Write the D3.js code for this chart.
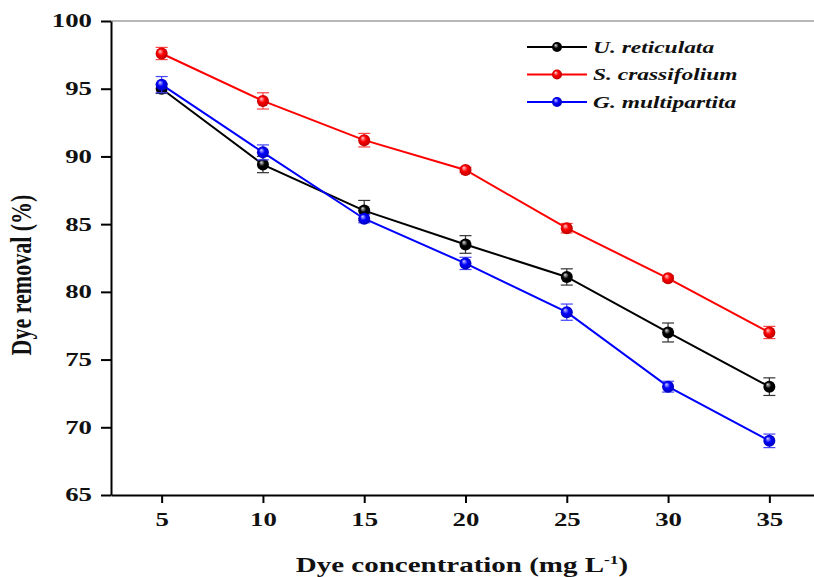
<!DOCTYPE html>
<html>
<head>
<meta charset="utf-8">
<script src="https://cdnjs.cloudflare.com/ajax/libs/d3/7.8.5/d3.min.js"></script>
<style>
  body { margin: 0; background: #fff; }
  text { font-family: "Liberation Serif", serif; font-weight: bold; fill: #111; }
  .axis path, .axis line { stroke: #000; stroke-width: 2px; }
  .line { fill: none; stroke-width: 2px; }
</style>
</head>
<body>
<svg id="chart" width="814" height="577"></svg>
<script>
// data
var concentrations = [5, 10, 15, 20, 25, 30, 35];
var seriesNames = ["U. reticulata", "S. crassifolium", "G. multipartita"];
var reticulata    = [95.0, 89.4, 86.0, 83.5, 81.1, 77.0, 73.0];
var reticulataErr = [0.35, 0.6, 0.75, 0.65, 0.6, 0.7, 0.65];
var crassifolium    = [97.6, 94.1, 91.2, 89.0, 84.7, 81.0, 77.0];
var crassifoliumErr = [0.45, 0.6, 0.5, 0.2, 0.35, 0.2, 0.45];
var multipartita    = [95.3, 90.3, 85.4, 82.1, 78.5, 73.0, 69.0];
var multipartitaErr = [0.6, 0.55, 0.3, 0.45, 0.6, 0.4, 0.5];
var xTicks = [5, 10, 15, 20, 25, 30, 35];
var yTicks = [65, 70, 75, 80, 85, 90, 95, 100];

var colors = ["#000", "#f00", "#00f"];
var lights = ["#e0e0e0", "#ffd0d0", "#d0d0ff"];
var darks = ["#000", "#b00000", "#0000b0"];
var barColors = ["#333", "#f44", "#44f"];
var sx = 1.45; // the figure's text is stretched horizontally

var svg = d3.select("svg"),
    x = d3.scaleLinear().domain([2.5, 37.5]).range([111, 820]),
    y = d3.scaleLinear().domain([65, 100]).range([495, 21]);

var series = [reticulata, crassifolium, multipartita].map(function(vals, i) {
  var errs = [reticulataErr, crassifoliumErr, multipartitaErr][i];
  return {
    name: seriesNames[i], i: i,
    values: concentrations.map(function(c, j) { return {c: c, v: vals[j], e: errs[j]}; })
  };
});

// ball gradients
var defs = svg.append("defs");
colors.forEach(function(c, i) {
  var g = defs.append("radialGradient").attr("id", "ball" + i)
    .attr("cx", "50%").attr("cy", "50%").attr("r", "55%")
    .attr("fx", "35%").attr("fy", "30%");
  g.append("stop").attr("offset", "0%").attr("stop-color", lights[i]);
  g.append("stop").attr("offset", "45%").attr("stop-color", c);
  g.append("stop").attr("offset", "100%").attr("stop-color", darks[i]);
});

// top frame line
svg.append("line")
  .attr("x1", x(2.5)).attr("x2", 814).attr("y1", y(100)).attr("y2", y(100))
  .attr("stroke", "#a0a0a0").attr("stroke-width", 1.5);

var xAxis = svg.append("g").attr("class", "axis")
  .attr("transform", "translate(0," + y(65) + ")")
  .call(d3.axisBottom(x).tickValues(xTicks).tickSize(8).tickSizeOuter(0).tickPadding(8));
var yAxis = svg.append("g").attr("class", "axis")
  .attr("transform", "translate(" + x(2.5) + ",0)")
  .call(d3.axisLeft(y).tickValues(yTicks).tickSize(10).tickSizeOuter(0));

svg.selectAll(".axis text").style("font-size", "18.5px").attr("fill", "#111");
xAxis.selectAll("text").attr("transform", "scale(" + sx + ",1)").attr("dy", "0.8em");
yAxis.selectAll("text").attr("x", -19 / sx).attr("transform", "scale(" + sx + ",1)");

var line = d3.line()
  .x(function(d) { return x(d.c); })
  .y(function(d) { return y(d.v); });

var grp = svg.selectAll(".series").data(series).enter().append("g").attr("class", "series");

grp.append("path").attr("class", "line")
  .attr("d", function(d) { return line(d.values); })
  .attr("stroke", function(d) { return colors[d.i]; });

grp.each(function(s) {
  var g = d3.select(this);
  var eb = g.selectAll(".err").data(s.values).enter().append("g")
    .attr("stroke", barColors[s.i]).attr("stroke-width", 1.2);
  eb.append("line")
    .attr("x1", function(d) { return x(d.c); }).attr("x2", function(d) { return x(d.c); })
    .attr("y1", function(d) { return y(d.v + d.e); }).attr("y2", function(d) { return y(d.v - d.e); });
  [1, -1].forEach(function(sgn) {
    eb.append("line")
      .attr("x1", function(d) { return x(d.c) - 6; }).attr("x2", function(d) { return x(d.c) + 6; })
      .attr("y1", function(d) { return y(d.v + sgn * d.e); }).attr("y2", function(d) { return y(d.v + sgn * d.e); });
  });
  g.selectAll("circle").data(s.values).enter().append("circle")
    .attr("cx", function(d) { return x(d.c); })
    .attr("cy", function(d) { return y(d.v); })
    .attr("r", 6)
    .attr("fill", "url(#ball" + s.i + ")");
});

// legend
var legend = svg.selectAll(".legend").data(series).enter().append("g")
  .attr("class", "legend")
  .attr("transform", function(d, i) { return "translate(527," + (47 + i * 27.5) + ")"; });
legend.append("line").attr("x1", 0).attr("x2", 60)
  .attr("stroke", function(d) { return colors[d.i]; }).attr("stroke-width", 2);
legend.append("circle").attr("cx", 30).attr("r", 5)
  .attr("fill", function(d) { return "url(#ball" + d.i + ")"; });
legend.append("text")
  .attr("transform", "translate(66,0) scale(1.38,1)")
  .attr("dy", "0.35em")
  .style("font-size", "17px").style("font-style", "italic")
  .text(function(d) { return d.name; });

// axis titles
svg.append("text")
  .attr("transform", "translate(462,572) scale(" + sx + ",1)")
  .attr("text-anchor", "middle")
  .style("font-size", "20px")
  .text("Dye concentration (mg L")
  .append("tspan").attr("dy", -8).style("font-size", "12px").text("-1")
  .select(function() { return this.parentNode; })
  .append("tspan").attr("dy", 8).text(")");

svg.append("text")
  .attr("transform", "translate(31,275) scale(1.3,1) rotate(-90)")
  .attr("text-anchor", "middle")
  .style("font-size", "22px")
  .text("Dye removal (%)");
</script>
</body>
</html>
